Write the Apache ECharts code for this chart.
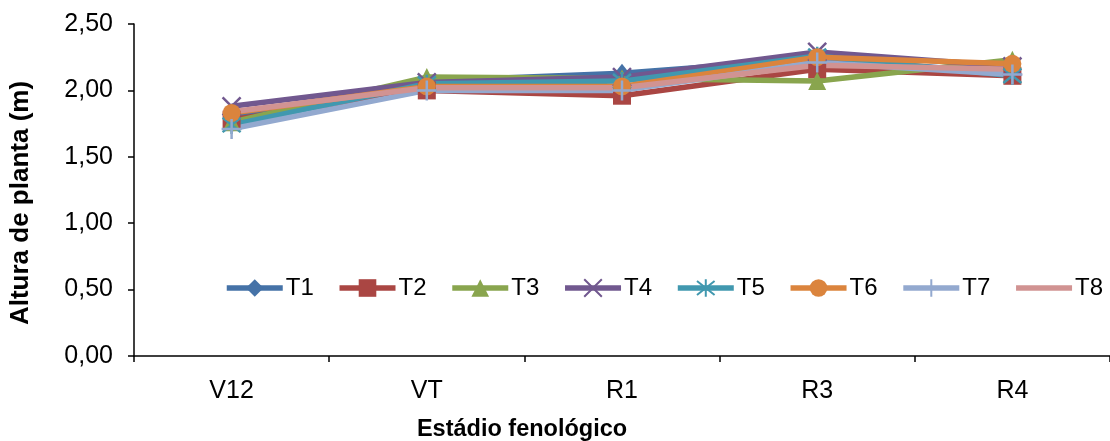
<!DOCTYPE html>
<html>
<head>
<meta charset="utf-8">
<script src="https://cdn.jsdelivr.net/npm/echarts@6/dist/echarts.min.js"></script>
<style>
  html, body { margin: 0; padding: 0; background: #fff; }
  #chart { width: 1110px; height: 441px; }
</style>
</head>
<body>
<div id="chart"></div>
<script>
// Plant height (m) per phenological stage, treatments T1..T8
const categories = ['V12', 'VT', 'R1', 'R3', 'R4'];
const T1 = [1.80, 2.07, 2.13, 2.24, 2.13];
const T2 = [1.78, 2.00, 1.96, 2.16, 2.11];
const T3 = [1.76, 2.10, 2.09, 2.07, 2.23];
const T4 = [1.88, 2.06, 2.10, 2.29, 2.18];
const T5 = [1.74, 2.05, 2.07, 2.26, 2.11];
const T6 = [1.83, 2.03, 2.03, 2.25, 2.20];
const T7 = [1.71, 2.00, 2.00, 2.21, 2.12];
const T8 = [1.84, 2.02, 2.02, 2.19, 2.16];
const yTicks = [0, 0.5, 1.0, 1.5, 2.0, 2.5];

const FONT = '"Liberation Sans", Arial, sans-serif';

const SYM_X = 'path://M0,0L20,20M20,0L0,20';
const SYM_STAR = 'path://M10,0L10,20M2,2L18,18M18,2L2,18';
const SYM_PLUS = 'path://M10,0L10,20M0,10L20,10';

function lineSeries(name, data, color, symbol, size, mode) {
  let itemStyle;
  if (mode === 'stroke') {
    itemStyle = { color: 'rgba(0,0,0,0)', borderColor: color, borderWidth: 2.5 };
  } else if (mode === 'plain') {
    // plain line: keep the marker invisible, also in the legend
    itemStyle = { color: 'rgba(0,0,0,0)', borderWidth: 0 };
  } else {
    itemStyle = { color: color, borderWidth: 0 };
  }
  return {
    name: name,
    type: 'line',
    data: data,
    symbol: symbol,
    symbolSize: size,
    showSymbol: mode !== 'plain',
    lineStyle: { color: color, width: 5.5 },
    itemStyle: itemStyle,
    emphasis: { disabled: true },
    animation: false,
    z: 2
  };
}

const chart = echarts.init(document.getElementById('chart'), null, { renderer: 'canvas' });
chart.setOption({
  backgroundColor: '#fff',
  animation: false,
  textStyle: { fontFamily: FONT },
  grid: { left: 134, top: 24, width: 982, height: 332, containLabel: false },
  title: {
    text: 'Estádio fenológico',
    left: 517,
    top: 413,
    textAlign: 'center',
    textStyle: { fontFamily: FONT, fontSize: 23.5, fontWeight: 'bold', color: '#000' }
  },
  graphic: [{
    type: 'text',
    x: 21,
    y: 203,
    rotation: Math.PI / 2,
    silent: true,
    style: {
      text: 'Altura de planta (m)',
      fill: '#000',
      font: 'bold 26px "Liberation Sans", Arial, sans-serif',
      textAlign: 'center',
      textVerticalAlign: 'middle'
    }
  }],
  legend: {
    left: 219,
    top: 271,
    width: 1000,
    itemWidth: 56,
    itemHeight: 22,
    itemGap: 23,
    lineStyle: { width: 5.5 },
    textStyle: { fontFamily: FONT, fontSize: 24, color: '#000', padding: [0, 0, 0, -2] },
    data: ['T1', 'T2', 'T3', 'T4', 'T5', 'T6', 'T7', 'T8']
  },
  xAxis: {
    type: 'category',
    data: categories,
    boundaryGap: true,
    axisLine: { lineStyle: { color: '#000', width: 1.5 } },
    axisTick: { show: true, alignWithLabel: false, length: 6, lineStyle: { color: '#000', width: 1.5 } },
    axisLabel: { color: '#000', fontSize: 25, margin: 23, fontFamily: FONT },
    splitLine: { show: false }
  },
  yAxis: {
    type: 'value',
    min: yTicks[0],
    max: yTicks[yTicks.length - 1],
    interval: yTicks[1] - yTicks[0],
    axisLine: { show: true, lineStyle: { color: '#000', width: 1.5 } },
    axisTick: { show: true, length: 6, lineStyle: { color: '#000', width: 1.5 } },
    axisLabel: {
      color: '#000', fontSize: 25, margin: 21, fontFamily: FONT,
      formatter: v => v.toFixed(2).replace('.', ',')
    },
    splitLine: { show: false }
  },
  series: [
    lineSeries('T1', T1, '#4572A7', 'diamond', [15, 19], 'fill'),
    lineSeries('T2', T2, '#AA4643', 'rect', 18, 'fill'),
    lineSeries('T3', T3, '#89A54E', 'triangle', 18, 'fill'),
    lineSeries('T4', T4, '#71588F', SYM_X, 18, 'stroke'),
    lineSeries('T5', T5, '#4198AF', SYM_STAR, 18, 'stroke'),
    lineSeries('T6', T6, '#DB843D', 'circle', 18, 'fill'),
    lineSeries('T7', T7, '#93A9CF', SYM_PLUS, 20, 'stroke'),
    lineSeries('T8', T8, '#D19392', 'circle', 0, 'plain')
  ]
});
</script>
</body>
</html>
